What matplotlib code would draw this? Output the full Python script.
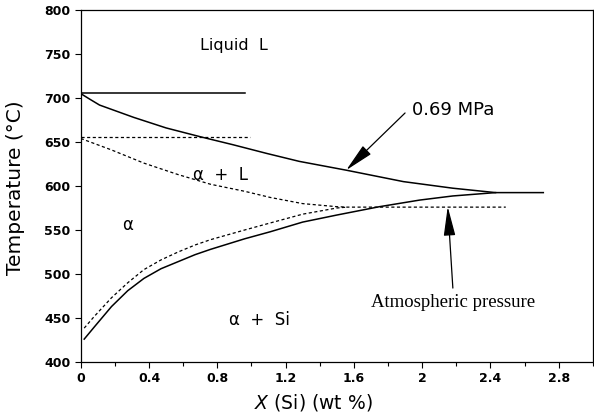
import matplotlib.pyplot as plt
from matplotlib.ticker import MultipleLocator, FuncFormatter

# 0.69 MPa (solid lines)
liq_hi_x = [0, 0.05, 0.11, 0.31, 0.50, 0.70, 0.89, 1.09, 1.28, 1.555, 1.89, 2.18, 2.43, 2.71]
liq_hi_y = [705, 699, 692, 678, 666, 656, 647, 637, 628, 618, 605, 597.5, 592.5, 592.5]
sol_hi_x = [0.02, 0.08, 0.18, 0.275, 0.37, 0.47, 0.57, 0.67, 0.76, 0.96, 1.11, 1.30, 1.50,
            1.75, 1.985, 2.18, 2.43]
sol_hi_y = [426, 440, 463, 481, 495, 506, 514, 522, 528, 540, 548, 559, 567,
            576.5, 584, 588.7, 592.5]
melt_hi_x = [0, 0.96]
melt_hi_y = [705.3, 705.3]

# atmospheric pressure (dotted lines)
liq_atm_x = [0, 0.18, 0.37, 0.57, 0.76, 0.96, 1.11, 1.30, 1.50, 1.56, 2.49]
liq_atm_y = [654, 641, 626, 613, 602, 594, 587, 580, 576.5, 576, 576]
sol_atm_x = [0.02, 0.08, 0.18, 0.275, 0.37, 0.47, 0.57, 0.67, 0.76, 0.96, 1.11, 1.30, 1.50, 1.56]
sol_atm_y = [438.5, 452, 473, 490, 505, 516, 525, 533, 539, 550, 558, 568, 575, 576]
melt_atm_x = [0, 0.99]
melt_atm_y = [655.5, 655.5]

fig = plt.figure(figsize=(5.94, 4.18), dpi=100)
ax = fig.add_axes([0.136, 0.134, 0.862, 0.842])

solid = dict(color='black', lw=1.1)
dotted = dict(color='black', lw=0.9, linestyle=(0, (2.5, 2)))
ax.plot(melt_hi_x, melt_hi_y, **solid)
ax.plot(liq_hi_x, liq_hi_y, **solid)
ax.plot(sol_hi_x, sol_hi_y, **solid)
ax.plot(melt_atm_x, melt_atm_y, **dotted)
ax.plot(liq_atm_x, liq_atm_y, **dotted)
ax.plot(sol_atm_x, sol_atm_y, **dotted)

ax.set_xlim(0, 3.0)
ax.set_ylim(400, 800)
ax.xaxis.set_major_locator(MultipleLocator(0.4))
ax.xaxis.set_minor_locator(MultipleLocator(0.2))
ax.yaxis.set_major_locator(MultipleLocator(50))
ax.xaxis.set_major_formatter(FuncFormatter(lambda v, p: f'{v:g}' if v < 2.9 else ''))
ax.tick_params(axis='both', direction='out', length=4, width=0.8, labelsize=9)
ax.tick_params(axis='x', which='minor', direction='out', length=3, width=0.8)
for lab in ax.get_xticklabels() + ax.get_yticklabels():
    lab.set_fontweight('bold')
for s in ax.spines.values():
    s.set_linewidth(0.9)

ax.set_ylabel('Temperature (°C)', fontsize=14.5)
ax.set_xlabel(r'$X$ (Si) (wt %)', fontsize=13.5)
ax.xaxis.set_label_coords(0.455, -0.086)
ax.yaxis.set_label_coords(-0.108, 0.494)

ax.text(0.70, 760, 'Liquid  L', fontsize=11.5, va='center')
ax.text(0.82, 612, 'α  +  L', fontsize=12, va='center', ha='center')
ax.text(0.24, 556, 'α', fontsize=12, va='center')
ax.text(0.87, 448, 'α  +  Si', fontsize=12, va='center')

arrow = dict(arrowstyle='-|>,head_length=1.8,head_width=0.36', color='black', lw=0.9,
             mutation_scale=10, shrinkA=0, shrinkB=0)
ax.text(1.94, 686, '0.69 MPa', fontsize=13, va='center')
ax.annotate('', xy=(1.555, 618), xytext=(1.90, 683), arrowprops=arrow)
ax.text(2.18, 468, 'Atmospheric pressure', fontsize=13.5, family='Liberation Serif',
        ha='center', va='center')
ax.annotate('', xy=(2.15, 576.5), xytext=(2.18, 484), arrowprops=arrow)

fig.savefig('out.png', dpi=100)
